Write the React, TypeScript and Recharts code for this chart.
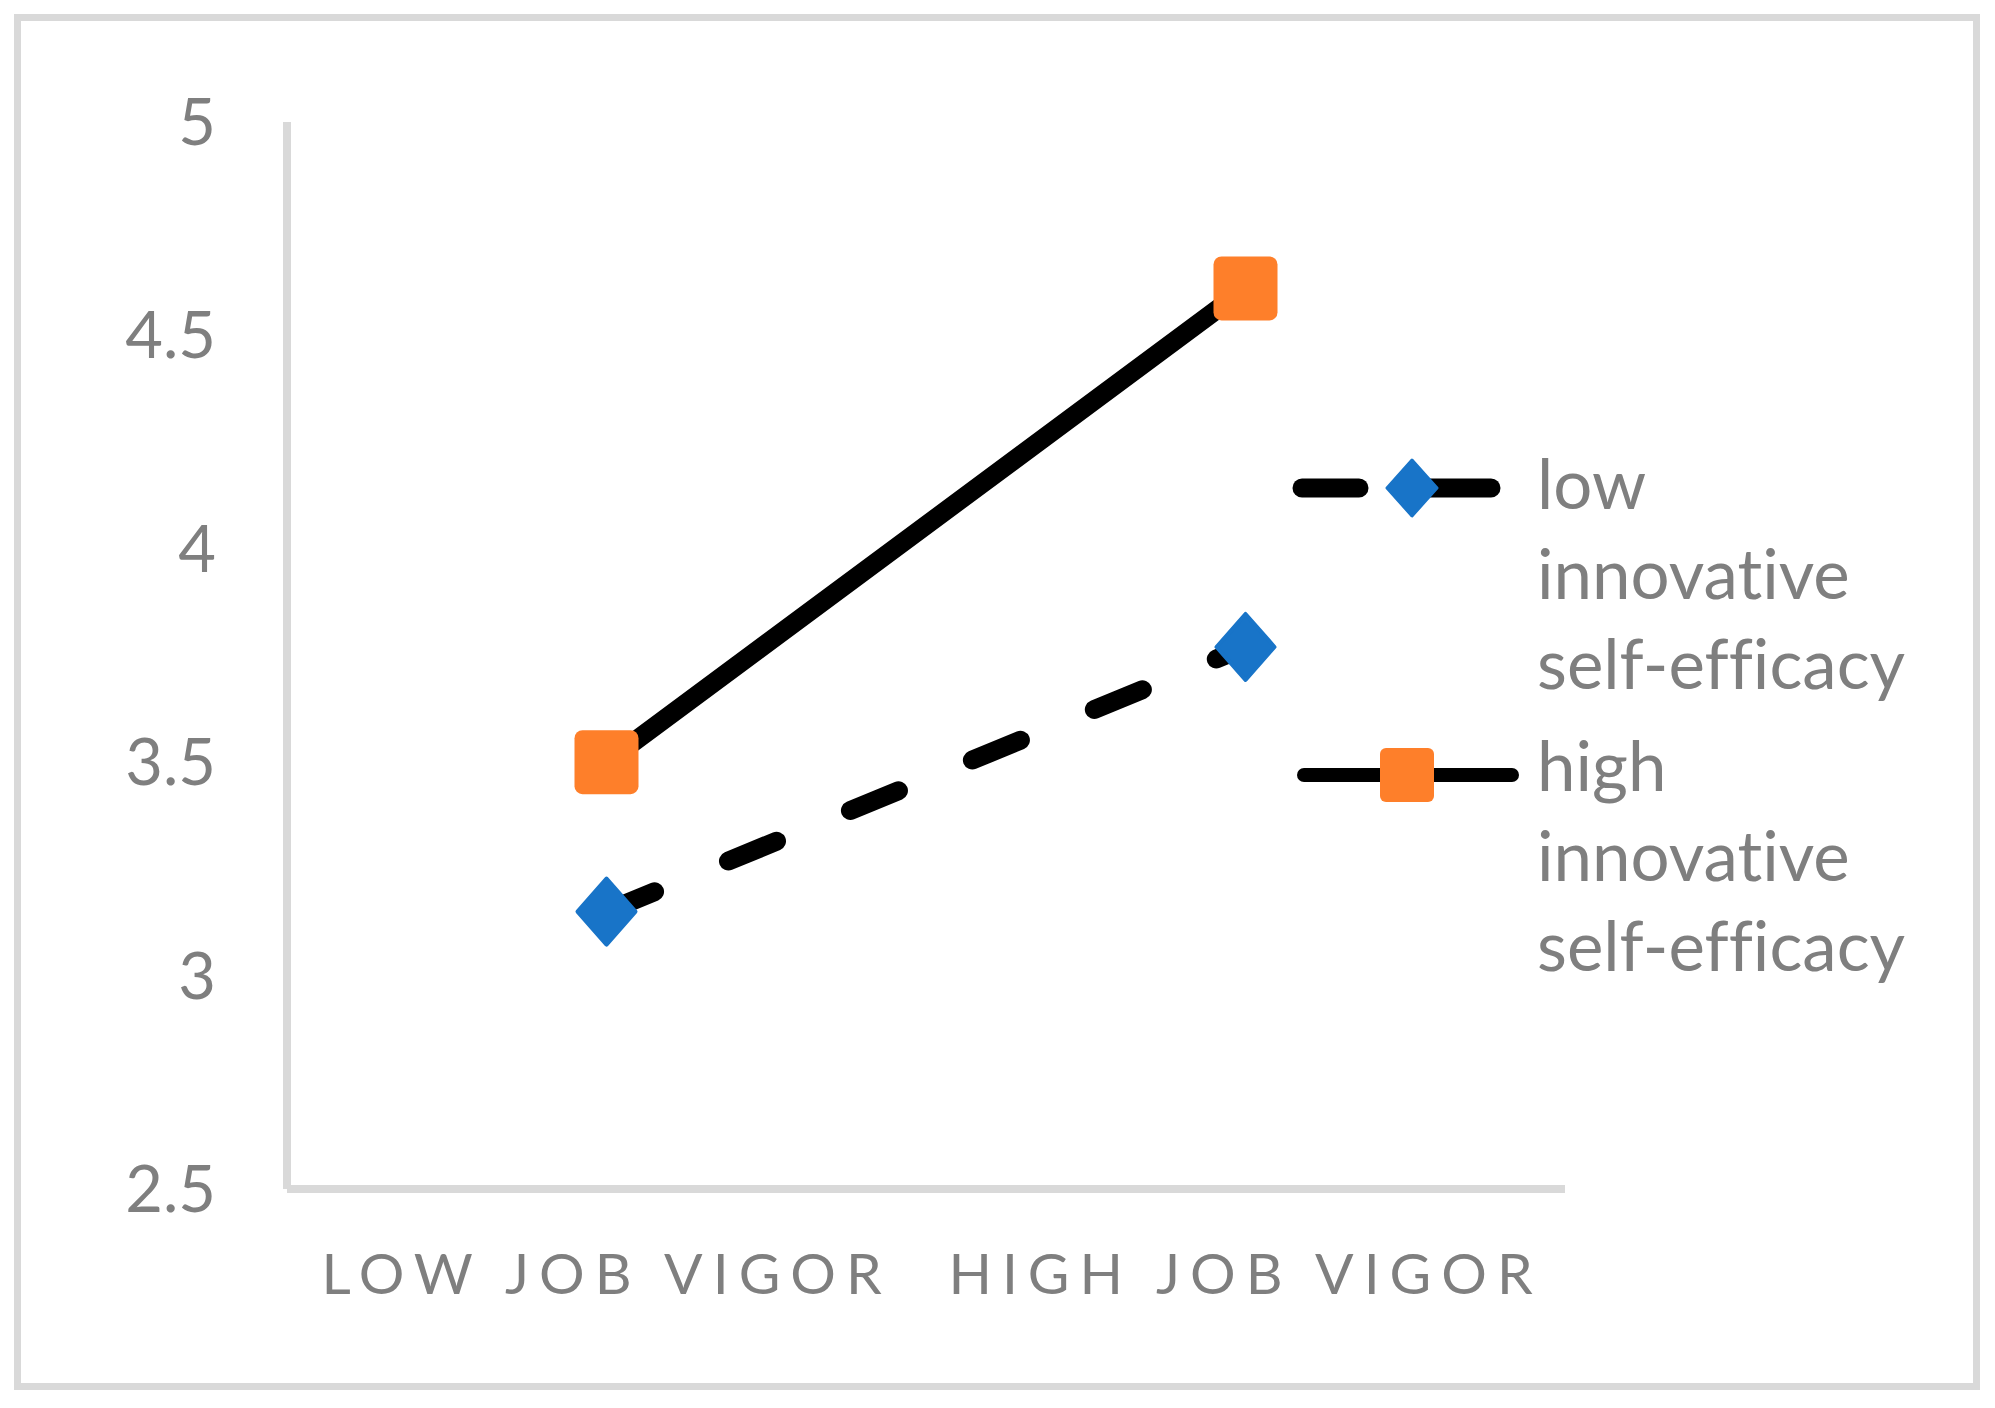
import React from 'react';
import { LineChart, Line, XAxis, YAxis, Legend } from 'recharts';

// ---- data ----
const categories = ['Low job vigor', 'High job vigor'];
const lowISE = [3.15, 3.77];
const highISE = [3.5, 4.61];
const yTicks = [2.5, 3, 3.5, 4, 4.5, 5];
const seriesNames = ['low innovative self-efficacy', 'high innovative self-efficacy'];

const data = categories.map((c, i) => ({ category: c, low: lowISE[i], high: highISE[i] }));

// ---- styles ----
const FONT = 'Lato, "Open Sans", sans-serif';
const GRAY = '#7f7f7f';
const AXIS = '#d9d9d9';
const BLUE = '#1874c8';
const ORANGE = '#fe7f2a';

const CHART_W = 1952;
const CHART_H = 1362;

const Diamond = (props: any) => {
  const { cx, cy } = props;
  if (cx == null || cy == null) return null;
  const w = 58;
  const h = 66;
  return (
    <path
      d={`M${cx},${cy - h / 2} L${cx + w / 2},${cy} L${cx},${cy + h / 2} L${cx - w / 2},${cy} Z`}
      fill={BLUE}
      stroke={BLUE}
      strokeWidth={4}
      strokeLinejoin="round"
    />
  );
};

const SquareDot = (props: any) => {
  const { cx, cy } = props;
  if (cx == null || cy == null) return null;
  const s = 64;
  return <rect x={cx - s / 2} y={cy - s / 2} width={s} height={s} rx={8} ry={8} fill={ORANGE} />;
};

const XTick = (props: any) => {
  const { x, y, payload } = props;
  return (
    <text
      x={x}
      y={y + 105}
      textAnchor="middle"
      fill={GRAY}
      fontSize={57}
      fontFamily={FONT}
      style={{ letterSpacing: '10px' }}
    >
      {String(payload.value).toUpperCase()}
    </text>
  );
};

// legend geometry in chart coordinates
const legendRows = [
  { top: 417, lineY: 467, markerX: 1391 },
  { top: 699, lineY: 754, markerX: 1386 },
];

const renderLegend = (props: any) => {
  const raw = props.payload || [];
  const payload = [...raw].sort(
    (a: any, b: any) => seriesNames.indexOf(a.value) - seriesNames.indexOf(b.value)
  );
  return (
    <div style={{ position: 'relative', width: CHART_W, height: CHART_H }}>
      <svg
        width={CHART_W}
        height={CHART_H}
        style={{ position: 'absolute', left: 0, top: 0, overflow: 'visible' }}
      >
        {payload.map((entry: any, i: number) => {
          const row = legendRows[i];
          if (!row) return null;
          if (i === 0) {
            return (
              <g key={i}>
                <line x1={1281} y1={row.lineY} x2={1338} y2={row.lineY} stroke="#000" strokeWidth={19} strokeLinecap="round" />
                <line x1={1404} y1={row.lineY} x2={1470} y2={row.lineY} stroke="#000" strokeWidth={19} strokeLinecap="round" />
                <path
                  d={`M${row.markerX},${row.lineY - 28} L${row.markerX + 25},${row.lineY} L${row.markerX},${row.lineY + 28} L${row.markerX - 25},${row.lineY} Z`}
                  fill={BLUE}
                  stroke={BLUE}
                  strokeWidth={3}
                  strokeLinejoin="round"
                />
              </g>
            );
          }
          return (
            <g key={i}>
              <line x1={1283} y1={row.lineY} x2={1491} y2={row.lineY} stroke="#000" strokeWidth={14} strokeLinecap="round" />
              <rect x={row.markerX - 27} y={row.lineY - 27} width={54} height={54} rx={6} fill={ORANGE} />
            </g>
          );
        })}
      </svg>
      {payload.map((entry: any, i: number) => {
        const row = legendRows[i];
        if (!row) return null;
        return (
          <div
            key={'t' + i}
            style={{
              position: 'absolute',
              left: 1516,
              top: row.top,
              width: 400,
              fontFamily: FONT,
              fontSize: 69,
              lineHeight: '90px',
              color: GRAY,
              whiteSpace: 'normal',
              fontVariantLigatures: 'none',
            }}
          >
            {entry.value}
          </div>
        );
      })}
    </div>
  );
};

export default function App() {
  return (
    <div
      style={{
        position: 'absolute',
        left: 14,
        top: 14,
        width: 1966,
        height: 1376,
        border: `7px solid ${AXIS}`,
        boxSizing: 'border-box',
        background: '#fff',
      }}
    >
      <LineChart
        width={CHART_W}
        height={CHART_H}
        data={data}
        margin={{ top: 101, right: 408, bottom: 0, left: 0 }}
      >
        <XAxis
          dataKey="category"
          type="category"
          scale="band"
          height={194}
          axisLine={{ stroke: AXIS, strokeWidth: 8 }}
          tickLine={false}
          tickSize={0}
          tickMargin={0}
          tick={<XTick />}
          interval={0}
        />
        <YAxis
          type="number"
          domain={[2.5, 5]}
          ticks={yTicks}
          width={266}
          axisLine={{ stroke: AXIS, strokeWidth: 8 }}
          tickLine={false}
          tickSize={0}
          tickMargin={71}
          tick={{ fill: GRAY, fontSize: 65, fontFamily: FONT }}
          interval={0}
        />
        <Legend
          layout="horizontal"
          verticalAlign="middle"
          align="center"
          content={renderLegend}
          wrapperStyle={{ position: 'absolute', left: 0, top: 0, width: CHART_W, height: CHART_H, pointerEvents: 'none' }}
        />
        <Line
          dataKey="low"
          name={seriesNames[0]}
          stroke="#000"
          strokeWidth={19}
          strokeDasharray="52 80"
          strokeLinecap="round"
          dot={<Diamond />}
          activeDot={false}
          isAnimationActive={false}
        />
        <Line
          dataKey="high"
          name={seriesNames[1]}
          stroke="#000"
          strokeWidth={19}
          strokeLinecap="round"
          dot={<SquareDot />}
          activeDot={false}
          isAnimationActive={false}
        />
      </LineChart>
    </div>
  );
}
